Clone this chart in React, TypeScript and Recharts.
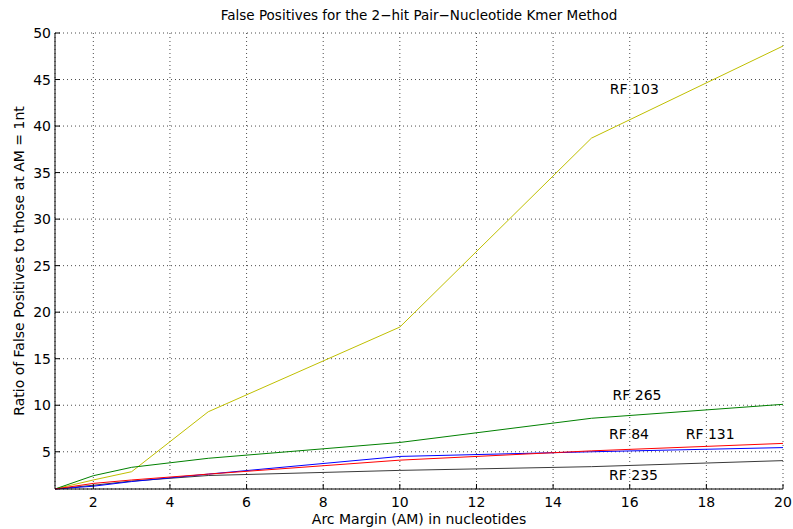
import React from "react";
import {
  LineChart,
  Line,
  XAxis,
  YAxis,
  CartesianGrid,
  ReferenceDot,
} from "recharts";

// ─── Data ─────────────────────────────────────────────────────────────────────

const arcMargins = [1, 2, 3, 5, 10, 15, 20];

const rf103 = [1, 1.97, 2.86, 9.3, 18.4, 38.7, 48.6];
const rf265 = [1, 2.43, 3.33, 4.3, 6.0, 8.6, 10.1];
const rf131 = [1, 1.6, 1.97, 2.6, 4.1, 5.1, 5.9];
const rf84 = [1, 1.3, 1.8, 2.6, 4.5, 5.0, 5.45];
const rf235 = [1, 1.4, 1.85, 2.45, 3.0, 3.4, 4.05];

const xTicks = [2, 4, 6, 8, 10, 12, 14, 16, 18, 20];
const yTicks = [5, 10, 15, 20, 25, 30, 35, 40, 45, 50];

// text annotations placed in data coordinates (label centre)
const annotations = [
  { text: "RF 103", x: 16.12, y: 44.0 },
  { text: "RF 265", x: 16.19, y: 11.1 },
  { text: "RF 84", x: 15.98, y: 6.88 },
  { text: "RF 131", x: 18.1, y: 6.88 },
  { text: "RF 235", x: 16.1, y: 2.5 },
];

const series = [
  { key: "rf103", values: rf103, color: "#bfbf00" },
  { key: "rf265", values: rf265, color: "#008000" },
  { key: "rf235", values: rf235, color: "#3a3a3a" },
  { key: "rf84", values: rf84, color: "#0000ff" },
  { key: "rf131", values: rf131, color: "#ff0000" },
];

const rows = arcMargins.map((am, i) => {
  const row: Record<string, number> = { am };
  series.forEach((s) => (row[s.key] = s.values[i]));
  return row;
});

// ─── Styles ───────────────────────────────────────────────────────────────────

const FONT = "'DejaVu Sans', sans-serif";
const tickStyle = { fontFamily: FONT, fontSize: 14, fill: "#000" };

if (typeof document !== "undefined") document.body.style.margin = "0";

export default function App() {
  return (
    <div style={{ width: 793, height: 529, background: "#fff" }}>
      <LineChart
        width={793}
        height={529}
        data={rows}
        margin={{ top: 33, right: 10, left: 10, bottom: 0 }}
      >
        <CartesianGrid stroke="#000" strokeDasharray="1 3" strokeOpacity={0.7} />
        <XAxis
          dataKey="am"
          type="number"
          domain={[1, 20]}
          ticks={xTicks}
          height={40}
          tickSize={-5}
          tickMargin={13}
          tick={tickStyle}
          axisLine={{ stroke: "#000" }}
          tickLine={{ stroke: "#000" }}
        />
        <XAxis
          xAxisId="top"
          orientation="top"
          dataKey="am"
          type="number"
          domain={[1, 20]}
          ticks={xTicks}
          height={0}
          tickSize={-5}
          tickFormatter={() => ""}
          axisLine={{ stroke: "#000" }}
          tickLine={{ stroke: "#000" }}
        />
        <YAxis
          type="number"
          domain={[1, 50]}
          ticks={yTicks}
          width={45}
          tickSize={-5}
          tickMargin={9}
          tick={tickStyle}
          axisLine={{ stroke: "#000" }}
          tickLine={{ stroke: "#000" }}
        />
        <YAxis
          yAxisId="right"
          orientation="right"
          type="number"
          domain={[1, 50]}
          ticks={yTicks}
          width={0}
          tickSize={-5}
          tickFormatter={() => ""}
          axisLine={{ stroke: "#000" }}
          tickLine={{ stroke: "#000" }}
        />

        {series.map((s) => (
          <Line
            key={s.key}
            dataKey={s.key}
            stroke={s.color}
            strokeWidth={1}
            dot={false}
            activeDot={false}
            isAnimationActive={false}
          />
        ))}

        {annotations.map((a) => (
          <ReferenceDot
            key={a.text}
            x={a.x}
            y={a.y}
            r={0}
            fill="none"
            stroke="none"
            label={{
              value: a.text,
              position: "center",
              fontFamily: FONT,
              fontSize: 14,
              fill: "#000",
            }}
          />
        ))}

        <text x={419} y={20} textAnchor="middle" fontFamily={FONT} fontSize={13.5} fill="#000">
          False Positives for the 2−hit Pair−Nucleotide Kmer Method
        </text>
        <text x={419} y={524} textAnchor="middle" fontFamily={FONT} fontSize={14} fill="#000">
          Arc Margin (AM) in nucleotides
        </text>
        <text
          x={24}
          y={261}
          textAnchor="middle"
          transform="rotate(-90 24 261)"
          fontFamily={FONT}
          fontSize={14}
          fill="#000"
        >
          Ratio of False Positives to those at AM = 1nt
        </text>
      </LineChart>
    </div>
  );
}
